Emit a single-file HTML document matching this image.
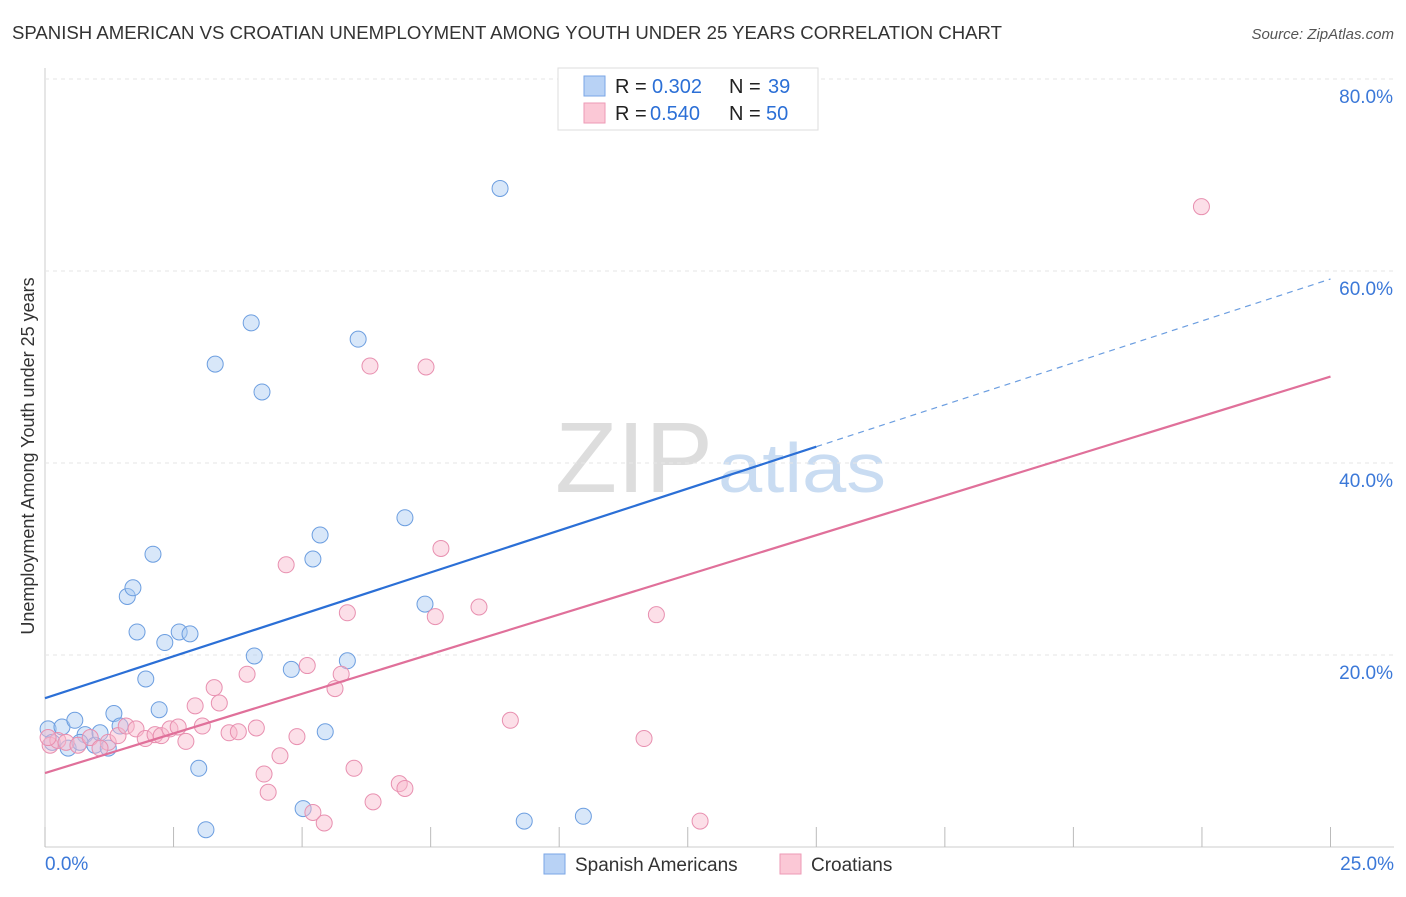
<!DOCTYPE html>
<html><head><meta charset="utf-8"><style>
body{margin:0;background:#fff;font-family:"Liberation Sans",sans-serif;}
svg text{font-family:"Liberation Sans",sans-serif;}
</style></head><body>
<svg id="chart" width="1406" height="892">
<text x="12" y="39" font-size="18" fill="#333" textLength="990" lengthAdjust="spacingAndGlyphs">SPANISH AMERICAN VS CROATIAN UNEMPLOYMENT AMONG YOUTH UNDER 25 YEARS CORRELATION CHART</text>
<text x="1394" y="39" font-size="15" fill="#555" font-style="italic" text-anchor="end">Source: ZipAtlas.com</text>
<text x="34" y="456" font-size="18" fill="#333" text-anchor="middle" transform="rotate(-90 34 456)">Unemployment Among Youth under 25 years</text>
<text x="555" y="492" font-size="100" fill="#ddd" textLength="158" lengthAdjust="spacingAndGlyphs" font-family="Liberation Serif">ZIP</text>
<text x="718" y="492" font-size="70" fill="#c9dcf2" textLength="168" lengthAdjust="spacingAndGlyphs">atlas</text>
<g id="grid"></g><g id="marks"></g>
<g>
<rect x="558" y="68" width="260" height="62" fill="#fff" stroke="#ddd"/>
<rect x="584" y="76" width="21" height="20" fill="#b8d2f5" stroke="#7aa6e6"/>
<rect x="584" y="103" width="21" height="20" fill="#fbc8d6" stroke="#ee9ab6"/>
<text x="615" y="93" font-size="20" fill="#222">R = <tspan fill="#2b6fd6" x="652">0.302</tspan><tspan x="729">N = </tspan><tspan fill="#2b6fd6" x="768">39</tspan></text>
<text x="615" y="120" font-size="20" fill="#222">R = <tspan fill="#2b6fd6" x="650">0.540</tspan><tspan x="729">N = </tspan><tspan fill="#2b6fd6" x="766">50</tspan></text>
</g>
<g>
<rect x="544" y="854" width="21" height="20" fill="#b8d2f5" stroke="#7aa6e6"/>
<text x="575" y="871" font-size="19" fill="#333">Spanish Americans</text>
<rect x="780" y="854" width="21" height="20" fill="#fbc8d6" stroke="#ee9ab6"/>
<text x="811" y="871" font-size="19" fill="#333">Croatians</text>
</g>
</svg>
<script>
const xTicks=[0,2.5,5,7.5,10,12.5,15,17.5,20,22.5,25];
const yTicks=[20,40,60,80];
const blueX=[0.06,0.33,0.58,0.45,0.78,0.97,1.07,1.23,1.34,1.46,1.60,1.71,1.79,1.96,2.10,2.22,2.33,2.61,2.82,2.99,3.13,3.31,4.01,4.07,4.22,4.79,5.02,5.21,5.35,5.45,5.88,6.09,7.00,7.39,8.85,9.32,10.47,0.14,0.68];
const blueY=[12.3,12.5,13.2,10.3,11.7,10.6,11.9,10.3,13.9,12.6,26.1,27.0,22.4,17.5,30.5,14.3,21.3,22.4,22.2,8.2,1.8,50.3,54.6,19.9,47.4,18.5,4.0,30.0,32.5,12.0,19.4,52.9,34.3,25.3,68.6,2.7,3.2,10.9,10.9];
const pinkX=[0.10,0.25,0.41,0.64,0.88,1.23,1.42,1.58,1.77,1.95,2.14,2.26,2.43,2.59,2.74,2.92,3.06,3.29,3.39,3.58,3.76,3.93,4.11,4.26,4.34,4.57,4.69,4.90,5.10,5.21,5.43,5.64,5.76,5.88,6.01,6.32,6.38,6.89,7.00,7.41,7.59,7.70,8.44,9.05,11.65,11.89,12.74,22.49,0.06,1.07];
const pinkY=[10.6,11.1,10.9,10.6,11.4,10.9,11.6,12.6,12.3,11.3,11.7,11.6,12.3,12.5,11.0,14.7,12.6,16.6,15.0,11.9,12.0,18.0,12.4,7.6,5.7,9.5,29.4,11.5,18.9,3.6,2.5,16.5,18.0,24.4,8.2,50.1,4.7,6.6,6.1,50.0,24.0,31.1,25.0,13.2,11.3,24.2,2.7,66.7,11.4,10.3];
const blueLine=[15.5,41.7], pinkLine=[7.7,49.0];
const X=v=>45+v*51.42, Y=v=>847-v*9.6;
const NS="http://www.w3.org/2000/svg";
const grid=document.getElementById('grid'), marks=document.getElementById('marks');
function mk(tag,attrs,parent){const e=document.createElementNS(NS,tag);for(const k in attrs)e.setAttribute(k,attrs[k]);parent.appendChild(e);return e;}
let ax=mk('line',{x1:45,y1:68,x2:45,y2:847,stroke:'#ccc'},grid);


let bx=mk('line',{x1:45,y1:847,x2:1394,y2:847,stroke:'#ccc'},grid);


yTicks.forEach(t=>{
 let l=mk('line',{x1:45,y1:Y(t),x2:1394,y2:Y(t),stroke:'#e6e6e6','stroke-dasharray':'4,4'},grid);
 
 
 let tx=mk('text',{x:1393,y:Y(t)+24,'font-size':19,fill:'#3b78d8','text-anchor':'end'},grid);tx.textContent=t.toFixed(1)+'%';
 
 
});
xTicks.forEach(t=>{
 let l=mk('line',{x1:X(t),y1:827,x2:X(t),y2:847,stroke:'#bbb'},grid);
 
 
});
[[0,'start',45],[25,'end',1394]].forEach(([t,a,x])=>{
 let tx=mk('text',{x:x,y:870,'font-size':19,fill:'#3b78d8','text-anchor':a},grid);tx.textContent=t.toFixed(1)+'%';
 
 
});
function dots(xs,ys,fill,stroke,name){xs.forEach((v,i)=>{
 let c=mk('circle',{cx:X(v),cy:Y(ys[i]),r:8,fill:fill,'fill-opacity':0.45,stroke:stroke,'stroke-width':1},marks);
 
 
});}
dots(blueX,blueY,'#a9c9f2','#6c9ee0','spanish-american-point');
dots(pinkX,pinkY,'#f9b9cd','#e890b0','croatian-point');
const bs=(blueLine[1]-blueLine[0])/15;
let b1=mk('line',{x1:X(0),y1:Y(blueLine[0]),x2:X(15),y2:Y(blueLine[1]),stroke:'#2b6fd6','stroke-width':2.2},marks);


let b2=mk('line',{x1:X(15),y1:Y(blueLine[1]),x2:X(25),y2:Y(blueLine[0]+bs*25),stroke:'#6c9ee0','stroke-width':1.2,'stroke-dasharray':'6,5'},marks);


let p1=mk('line',{x1:X(0),y1:Y(pinkLine[0]),x2:X(25),y2:Y(pinkLine[1]),stroke:'#e0709a','stroke-width':2.2},marks);


</script>
</body></html>
